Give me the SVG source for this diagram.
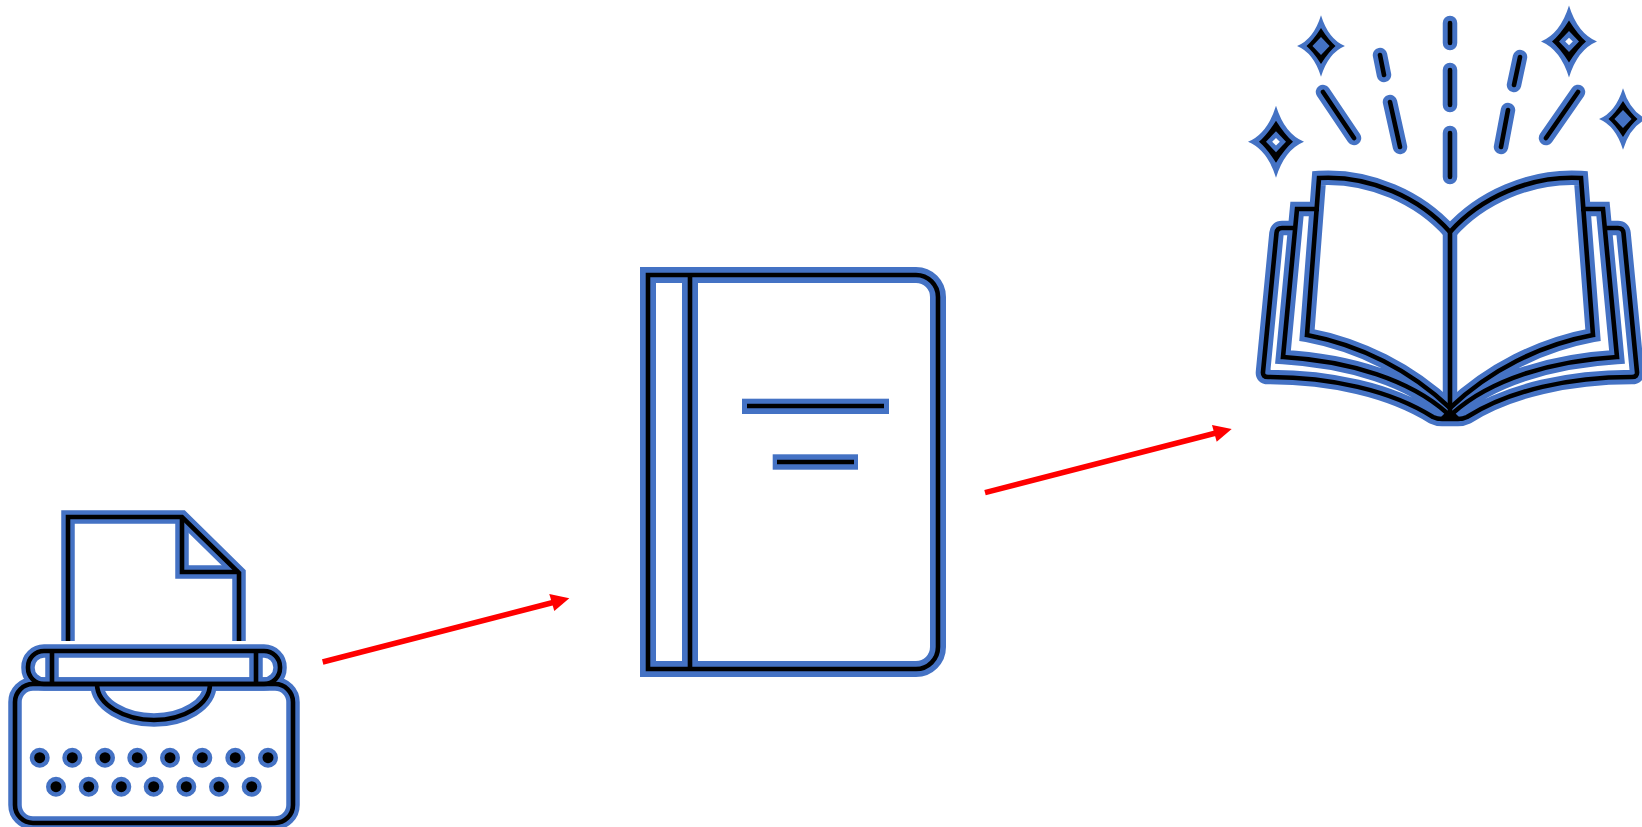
<svg xmlns="http://www.w3.org/2000/svg" width="1642" height="827" viewBox="0 0 1642 827">
<style>
.b{fill:none;stroke:#4472c4;stroke-width:13.500;stroke-miterlimit:20;stroke-linejoin:miter}
.b2{stroke-width:16}
.b3{stroke-width:14.500}
.k{fill:none;stroke:#000;stroke-width:4.600;stroke-miterlimit:20;stroke-linejoin:miter}
.r{stroke-linecap:round}
.w{fill:none;stroke:#f00;stroke-width:5.500}
.h{fill:#f00}
.sb{fill:#4472c4}
.sk{fill:#000}
.sw{fill:#fff}
</style>
<defs>
<g id="tw">
<path d="M68 641V517H182L239 573V641"/>
<path d="M182 517V572H239"/>
<rect x="28" y="651" width="252" height="33" rx="16"/>
<path d="M52 651V684M256 651V684"/>
<rect x="15" y="684" width="278" height="139" rx="18"/>
<path d="M97 684C97 705 125 720 154 720C183 720 210 705 210 684"/>
</g>
<g id="keys">
<circle cx="39.700" cy="757.700" r="5.500"/><circle cx="72.300" cy="757.700" r="5.500"/><circle cx="105" cy="757.700" r="5.500"/><circle cx="137.300" cy="757.700" r="5.500"/><circle cx="170" cy="757.700" r="5.500"/><circle cx="202.300" cy="757.700" r="5.500"/><circle cx="235.300" cy="757.700" r="5.500"/><circle cx="268" cy="757.700" r="5.500"/>
<circle cx="56" cy="786.700" r="5.500"/><circle cx="88.700" cy="786.700" r="5.500"/><circle cx="121.300" cy="786.700" r="5.500"/><circle cx="153.700" cy="786.700" r="5.500"/><circle cx="186.300" cy="786.700" r="5.500"/><circle cx="219" cy="786.700" r="5.500"/><circle cx="251.700" cy="786.700" r="5.500"/>
</g>
<g id="bk">
<path d="M648 275H916A22 22 0 0 1 938 297V647A22 22 0 0 1 916 669H648Z"/>
<path d="M690 275V669"/>
</g>
<path id="half" d="M1450 232C1420 198 1370 175 1319 178L1307 335C1360 345 1410 370 1450 408M1319 209H1297L1283 357C1350 361 1410 380 1447 413M1297 228H1282Q1277 228 1276.500 233L1263 372Q1262.500 377 1268 377C1330 377 1390 390 1433 417Q1437 419 1442 419H1450"/>
<g id="op">
<use href="#half"/>
<use href="#half" transform="matrix(-1 0 0 1 2900 0)"/>
<path d="M1450 232V418"/>
</g>
<g id="dash">
<path d="M1450 23V43M1450 70V105M1450 133V177M1380 55L1384 75M1390 102L1400 147M1323 92L1354 138M1520 57L1514 85M1508 110L1501 147M1578 92L1546 138"/>
</g>
<g id="sa">
<path class="sb" d="M0 -36Q8.600 -8 28 0Q8.600 8 0 36Q-8.600 8 -28 0Q-8.600 -8 0 -36Z"/>
<path class="sk" d="M0 -21Q8.900 -6.900 17 0Q8.900 6.900 0 21Q-8.900 6.900 -17 0Q-8.900 -6.900 0 -21Z"/>
<path class="sb" d="M0 -10.500L10 0L0 10.500L-10 0Z"/>
</g>
<g id="sbig">
<use href="#sa"/>
<path class="sw" d="M0 -3.800L3.800 0L0 3.800L-3.800 0Z"/>
</g>
</defs>
<g id="typewriter">
<use href="#tw" class="b"/><use href="#keys" class="b" style="stroke-width:9"/>
<use href="#tw" class="k"/><use href="#keys" style="fill:#000"/>
</g>
<g id="closed-book">
<use href="#bk" class="b b2"/>
<rect x="742" y="398.700" width="147" height="15.300" fill="#4472c4"/>
<rect x="772.700" y="454.300" width="85.300" height="15.400" fill="#4472c4"/>
<use href="#bk" class="k"/>
<path class="k" d="M747 406H884M777 462H854"/>
</g>
<g id="open-book">
<use href="#op" class="b b3"/><use href="#dash" class="b b3 r"/>
<use href="#op" class="k"/><use href="#dash" class="k r"/>
<path d="M1437 421L1446 412H1454L1463 421Z" fill="#000"/>
<use href="#sa" transform="translate(1321 46) scale(.855)"/>
<use href="#sbig" transform="translate(1569 41.500)"/>
<use href="#sbig" transform="translate(1276 141.700)"/>
<use href="#sa" transform="translate(1623 119) scale(.855)"/>
</g>
<g id="connectors">
<path class="w" d="M322.700 662L553 602.500"/><path class="h" d="M569.300 598.300L549.300 594L554.300 611Z"/>
<path class="w" d="M985 492.700L1216 433"/><path class="h" d="M1231.700 429L1212 425L1216.700 441.700Z"/>
</g>
</svg>
